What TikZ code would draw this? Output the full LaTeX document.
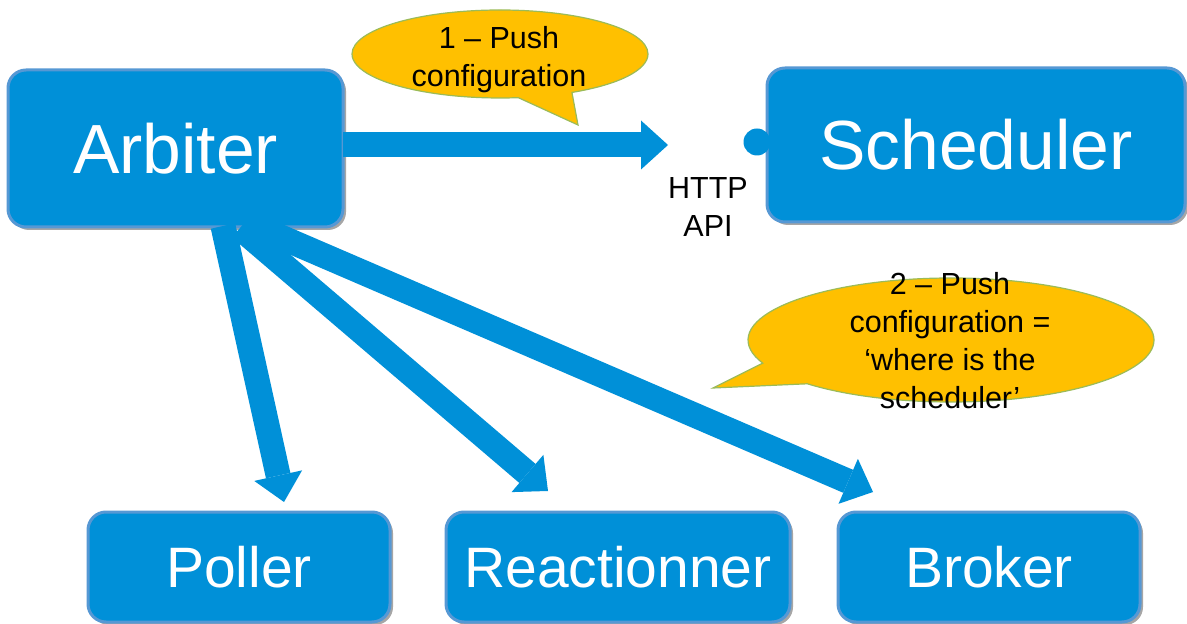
\documentclass[tikz,border=0pt]{standalone}
\usepackage{fontspec}
\setmainfont{Liberation Sans}
\usetikzlibrary{arrows.meta,shapes.callouts,shadows}
\definecolor{boxblue}{RGB}{0,144,216}
\definecolor{boxedge}{RGB}{86,152,212}
\definecolor{calloutfill}{RGB}{255,192,0}
\definecolor{calloutedge}{RGB}{155,187,89}
\tikzset{
  box/.style={rectangle, rounded corners=9pt, fill=boxblue, draw=boxedge, line width=1.5pt,
    text=white, inner sep=0pt,
    drop shadow={shadow xshift=1.5pt, shadow yshift=-1.5pt, opacity=0.35, fill=black}},
  bigtxt/.style={font=\fontsize{34.8}{40}\selectfont},
  smalltxt/.style={font=\fontsize{28.5}{34}\selectfont},
  fat/.style={draw=boxblue, line width=12.5pt, line cap=butt,
    -{Triangle[width=24.5pt,length=13.5pt,line width=0pt]}},
  bubble/.style={ellipse callout, fill=calloutfill, draw=calloutedge, line width=0.6pt, inner sep=0pt},
  note/.style={align=center, text=black, font=\fontsize{15.25}{19}\selectfont, inner sep=0pt}
}
\begin{document}
\begin{tikzpicture}[x=0.5pt,y=-0.5pt]
\useasboundingbox (0,0) rectangle (1187,624);

% boxes
\node[box, bigtxt, minimum width=167.5pt, minimum height=78.5pt] (arb) at (175.5,148.5) {Arbiter};
\node[box, bigtxt, minimum width=209pt, minimum height=77pt] (sch) at (976,145) {Scheduler};
\node[box, smalltxt, minimum width=151pt, minimum height=55pt] (pol) at (239,567) {Poller};
\node[box, smalltxt, minimum width=172pt, minimum height=55pt] (rea) at (618,567) {Reactionner};
\node[box, smalltxt, minimum width=151pt, minimum height=55pt] (bro) at (989,567) {Broker};

% interface dot
\node[circle, fill=boxblue, minimum size=13.5pt, inner sep=0pt] (dot) at (757,142) {};
\node[note] (http) at (708,207) {HTTP\\API};

% arrow end points
\coordinate (sH) at (343,145);
\coordinate (tH) at (668,145);
\coordinate (sP) at (223,226);
\coordinate (tP) at (284,502);
\coordinate (sR) at (240,228);
\coordinate (tR) at (548,491);
\coordinate (sB) at (255,226);
\coordinate (tB) at (873,492);

\draw[fat] (sB) -- (tB);
\draw[fat] (sR) -- (tR);
\draw[fat] (sP) -- (tP);
\draw[fat] (sH) -- (tH);

% callouts
\coordinate (p1) at (578,125);
\coordinate (p2) at (713,388);
\node[bubble, minimum width=148pt, minimum height=44pt, callout absolute pointer={(p1)},
  callout pointer arc=22] (c1) at (500,54) {};
\node[bubble, minimum width=203pt, minimum height=62pt, callout absolute pointer={(p2)},
  callout pointer arc=23] (c2) at (951,340) {};
\node[note] (t1) at (499,60) {1 -- Push\\configuration};
\node[note] (t2) at (950,341) {2 -- Push\\configuration =\\`where is the\\scheduler'};
\end{tikzpicture}
\end{document}
